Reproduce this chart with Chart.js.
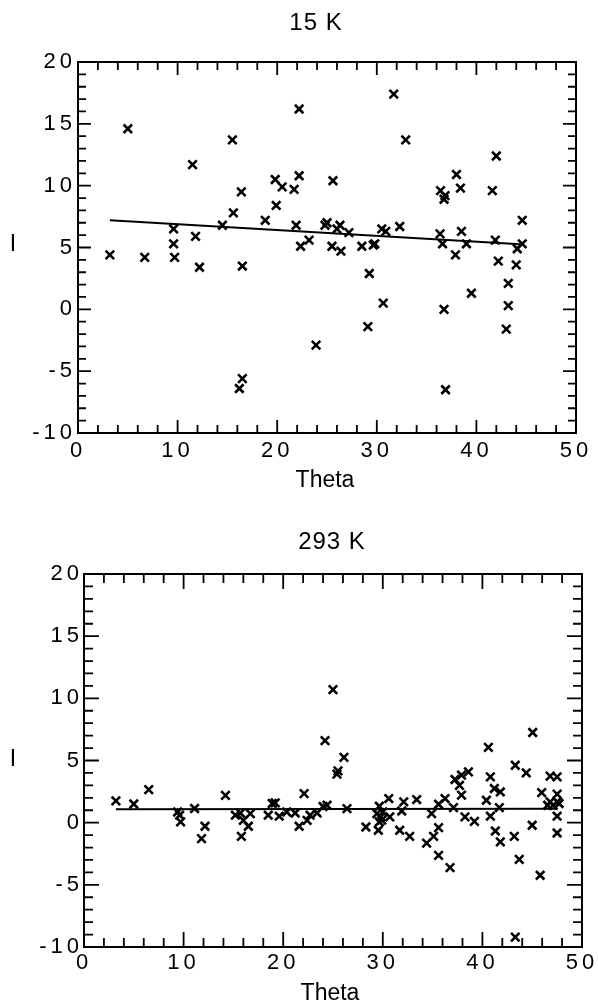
<!DOCTYPE html>
<html>
<head>
<meta charset="utf-8">
<script src="https://cdn.jsdelivr.net/npm/chart.js@4/dist/chart.umd.min.js"></script>
<style>
  body { margin: 0; background: #fff; }
  .plot { position: absolute; left: 0; width: 598px; }
  #top { top: 0; height: 500px; }
  #bottom { top: 500px; height: 505px; }
</style>
</head>
<body>
<div class="plot" id="top"><canvas id="chartCold"></canvas></div>
<div class="plot" id="bottom"><canvas id="chartRoom"></canvas></div>
<script>
// 15 K data (Theta, I)
const thetaCold = [3.2, 5.0, 6.7, 9.6, 9.6, 9.7, 11.5, 11.8, 12.2, 14.5,
  15.5, 15.6, 16.4, 16.5, 16.5, 16.2, 18.8, 19.8, 19.9, 20.5,
  21.7, 22.2, 22.2, 21.9, 22.35, 23.2, 23.9, 24.8, 25.0, 25.6,
  26.0, 26.3, 25.5, 26.4, 27.2, 28.5, 29.65, 29.8, 29.25, 29.1,
  30.5, 30.9, 30.65, 31.7, 32.3, 32.9, 36.4, 36.85, 36.75, 36.35,
  36.6, 36.75, 36.9, 37.9, 38.0, 38.4, 38.5, 39.0, 39.5, 41.6,
  42.0, 41.9, 42.2, 43.2, 43.2, 43.0, 44.0, 44.1, 44.6, 44.6];
const intensityCold = [4.4, 14.6, 4.2, 6.5, 5.3, 4.2, 11.7, 5.9, 3.4, 6.8,
  13.7, 7.8, 9.5, 3.5, -5.6, -6.4, 7.2, 10.5, 8.4, 9.9,
  9.7, 10.8, 16.2, 6.8, 5.1, 5.6, -2.9, 6.8, 7.0, 10.4,
  6.5, 6.8, 5.1, 4.7, 6.2, 5.1, 5.2, 5.3, 2.9, -1.4,
  6.5, 6.3, 0.5, 17.4, 6.7, 13.7, 9.6, 9.2, 8.9, 6.1,
  5.3, 0.0, -6.5, 4.4, 10.9, 9.8, 6.3, 5.3, 1.3, 9.6,
  12.4, 5.6, 3.9, 2.1, 0.3, -1.6, 3.6, 4.9, 7.2, 5.3];
const fitThetaCold = [3.2, 44.4];
const fitCold = [7.2, 5.26];

// 293 K data (Theta, I)
const thetaRoom = [3.2, 5.0, 6.5, 9.4, 9.6, 9.7, 11.1, 11.8, 12.15, 14.2,
  15.2, 15.7, 15.8, 16.0, 16.5, 16.7, 18.5, 18.9, 19.2, 19.6,
  20.35, 21.2, 21.6, 22.1, 22.4, 22.7, 23.4, 24.0, 24.4, 24.2,
  25.0, 26.1, 25.5, 25.4, 26.4, 28.3, 29.4, 29.65, 29.8, 29.65,
  29.55, 29.9, 30.0, 30.6, 30.7, 31.7, 31.9, 32.1, 32.7, 33.4,
  34.4, 34.9, 35.1, 35.6, 35.6, 35.6, 36.25, 36.75, 37.1, 37.25,
  37.7, 37.9, 37.9, 38.25, 38.6, 39.2, 40.4, 40.6, 40.8, 40.8,
  41.2, 41.3, 41.7, 41.8, 41.8, 43.2, 43.3, 43.3, 43.7, 44.4,
  45.0, 45.05, 45.8, 45.95, 46.55, 46.8, 46.8, 47.1, 47.5, 47.5,
  47.5, 47.7, 47.5, 47.5];
const intensityRoom = [1.75, 1.5, 2.66, 0.86, 0.6, 0.06, 1.14, -1.28, -0.29, 2.2,
  0.6, 0.78, -1.1, 0.19, -0.29, 0.73, 0.6, 1.54, 1.59, 0.52,
  0.86, 0.78, -0.29, 2.34, 0.19, 0.6, 0.78, 1.3, 1.4, 6.6,
  10.7, 5.25, 4.17, 3.9, 1.13, -0.35, 0.73, 1.32, 0.46, 0.06,
  -0.61, 0.2, 0.86, 1.94, 0.46, -0.61, 0.94, 1.67, -1.1, 1.86,
  -1.64, 0.73, -1.1, -0.4, 1.48, -2.63, 1.94, -3.62, 1.21, 3.47,
  3.0, 3.82, 2.21, 0.46, 4.08, 0.1, 1.8, 6.05, 3.68, 0.52,
  2.75, -0.67, 1.21, 2.47, -1.55, -1.1, 4.62, -9.2, -2.95, 4.0,
  -0.21, 7.25, -4.23, 2.42, 1.4, 1.67, 3.74, 1.4, 3.68, 2.29,
  1.67, 1.54, 0.52, -0.83];
const fitThetaRoom = [3.2, 47.5];
const fitRoom = [1.08, 1.12];

const xTicks = [0, 10, 20, 30, 40, 50];
const yTicks = [-10, -5, 0, 5, 10, 15, 20];

const FONT = "'Liberation Sans', Arial, sans-serif";

function pairs(xs, ys) {
  return xs.map((v, i) => ({ x: v, y: ys[i] }));
}

// box, inward ticks and the loose text labels
const framePlugin = {
  id: 'frame',
  beforeDraw(chart) {
    chart.ctx.letterSpacing = '4px';
  },
  afterDraw(chart, args, opts) {
    const { ctx, chartArea: a, scales: { x, y } } = chart;
    ctx.save();
    ctx.strokeStyle = '#000';
    ctx.lineWidth = 1.8;
    for (let v = 0; v <= 50; v += 2) {
      const px = x.getPixelForValue(v);
      const len = v % 10 === 0 ? opts.major : opts.minor;
      ctx.beginPath();
      ctx.moveTo(px, a.bottom); ctx.lineTo(px, a.bottom - len);
      ctx.moveTo(px, a.top); ctx.lineTo(px, a.top + len);
      ctx.stroke();
    }
    for (let v = -10; v <= 20; v++) {
      const py = y.getPixelForValue(v);
      const len = v % 5 === 0 ? opts.major : opts.minor;
      ctx.beginPath();
      ctx.moveTo(a.left, py); ctx.lineTo(a.left + len, py);
      ctx.moveTo(a.right, py); ctx.lineTo(a.right - len, py);
      ctx.stroke();
    }
    ctx.lineWidth = 2;
    ctx.strokeRect(a.left, a.top, a.right - a.left, a.bottom - a.top);

    ctx.fillStyle = '#000';
    ctx.textAlign = 'center';
    ctx.textBaseline = 'middle';
    ctx.letterSpacing = '1px';
    ctx.font = '24px ' + FONT;
    ctx.fillText(opts.title, opts.titleX, opts.titleY);
    ctx.font = '23px ' + FONT;
    ctx.letterSpacing = '0px';
    ctx.fillText('Theta', opts.thetaX, opts.thetaY);
    ctx.fillText('I', 13, opts.iY);
    ctx.restore();
  }
};

function makeChart(id, xs, ys, fx, fy, f) {
  return new Chart(document.getElementById(id), {
    data: {
      datasets: [{
        type: 'scatter',
        data: pairs(xs, ys),
        pointStyle: 'crossRot',
        pointRadius: 6,
        borderColor: '#000',
        backgroundColor: '#000',
        borderWidth: 2.6
      }, {
        type: 'line',
        data: pairs(fx, fy),
        borderColor: '#000',
        borderWidth: 2,
        pointRadius: 0,
        fill: false
      }]
    },
    options: {
      responsive: true,
      maintainAspectRatio: false,
      animation: false,
      events: [],
      layout: { padding: { left: 0, right: f.right, top: f.top, bottom: 0 } },
      plugins: {
        legend: { display: false },
        tooltip: { enabled: false },
        frame: f
      },
      scales: {
        x: {
          type: 'linear',
          min: 0, max: 50,
          afterBuildTicks: s => { s.ticks = xTicks.map(v => ({ value: v })); },
          afterFit: s => { s.height = f.xHeight; },
          grid: { display: false, drawTicks: false },
          border: { display: false },
          ticks: {
            autoSkip: false, maxRotation: 0,
            padding: f.xPad,
            color: '#000',
            font: { family: FONT, size: 22 }
          }
        },
        y: {
          type: 'linear',
          min: -10, max: 20,
          afterBuildTicks: s => { s.ticks = yTicks.map(v => ({ value: v })); },
          afterFit: s => { s.width = f.left; },
          grid: { display: false, drawTicks: false },
          border: { display: false },
          ticks: {
            autoSkip: false,
            padding: f.yPad,
            color: '#000',
            font: { family: FONT, size: 22 }
          }
        }
      }
    },
    plugins: [framePlugin]
  });
}

makeChart('chartCold', thetaCold, intensityCold, fitThetaCold, fitCold, {
  title: '15 K', titleX: 316, titleY: 23,
  thetaX: 325, thetaY: 481, iY: 245,
  left: 78, right: 22, top: 62, xHeight: 67,
  xPad: 5, yPad: 2, major: 13, minor: 8
});

makeChart('chartRoom', thetaRoom, intensityRoom, fitThetaRoom, fitRoom, {
  title: '293 K', titleX: 332, titleY: 42,
  thetaX: 330, thetaY: 494, iY: 260,
  left: 84, right: 16, top: 74, xHeight: 58,
  xPad: 2.5, yPad: 1, major: 15, minor: 9
});
</script>
</body>
</html>
